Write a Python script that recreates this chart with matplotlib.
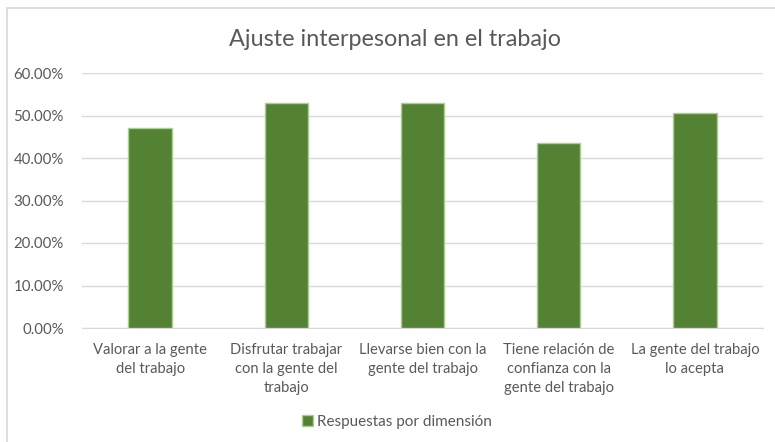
import matplotlib
matplotlib.use("Agg")
import matplotlib.pyplot as plt
from matplotlib.patches import Rectangle
from matplotlib.ticker import FuncFormatter

categories = [
    "Valorar a la gente\ndel trabajo",
    "Disfrutar trabajar\ncon la gente del\ntrabajo",
    "Llevarse bien con la\ngente del trabajo",
    "Tiene relación de\nconfianza con la\ngente del trabajo",
    "La gente del trabajo\nlo acepta",
]
values = [0.4706, 0.5294, 0.5294, 0.4353, 0.5059]
series_name = "Respuestas por dimensión"
title = "Ajuste interpesonal en el trabajo"
yticks = [0.0, 0.1, 0.2, 0.3, 0.4, 0.5, 0.6]

plt.rcParams['font.family'] = ['Lato', 'DejaVu Sans']
text_color = "#595959"

fig = plt.figure(figsize=(7.75, 4.42), dpi=100)
fig.patches.append(Rectangle((7 / 775, -0.1), 1.2, 1 - 8 / 442 + 0.1,
                             transform=fig.transFigure, fill=False,
                             edgecolor="#d9d9d9", linewidth=1.2))

ax = fig.add_axes([82 / 775, 1 - 328 / 442, (763 - 82) / 775, (328 - 73) / 442])
x = list(range(len(categories)))
ax.bar(x, values, width=0.32, color="#548235", edgecolor="#a9d18e",
       linewidth=1.0, label=series_name, zorder=3)
ax.set_xlim(-0.5, len(categories) - 0.5)
ax.set_ylim(0, 0.6)
ax.set_yticks(yticks)
ax.yaxis.set_major_formatter(FuncFormatter(lambda v, p: f"{v * 100:.2f}%"))
ax.grid(axis="y", color="#d9d9d9", linewidth=1.0, zorder=0)
for s in ["top", "right", "left"]:
    ax.spines[s].set_visible(False)
ax.spines["bottom"].set_color("#d9d9d9")
ax.tick_params(axis="both", length=0, colors=text_color)
ax.tick_params(axis="y", pad=13, labelsize=10.8)
ax.tick_params(axis="x", pad=11, labelsize=10.6)
ax.set_xticks(x)
ax.set_xticklabels(categories, linespacing=1.45)

fig.text(395 / 775, 1 - 40 / 442, title, ha="center", va="center",
         fontsize=16.8, color=text_color)

handles, labels = ax.get_legend_handles_labels()
fig.legend(handles, labels, loc="center", bbox_to_anchor=(397 / 775, 1 - 422 / 442),
           frameon=False, fontsize=11, labelcolor=text_color,
           handlelength=0.7, handleheight=0.7, handletextpad=0.25)

fig.savefig("out.png", dpi=100)
